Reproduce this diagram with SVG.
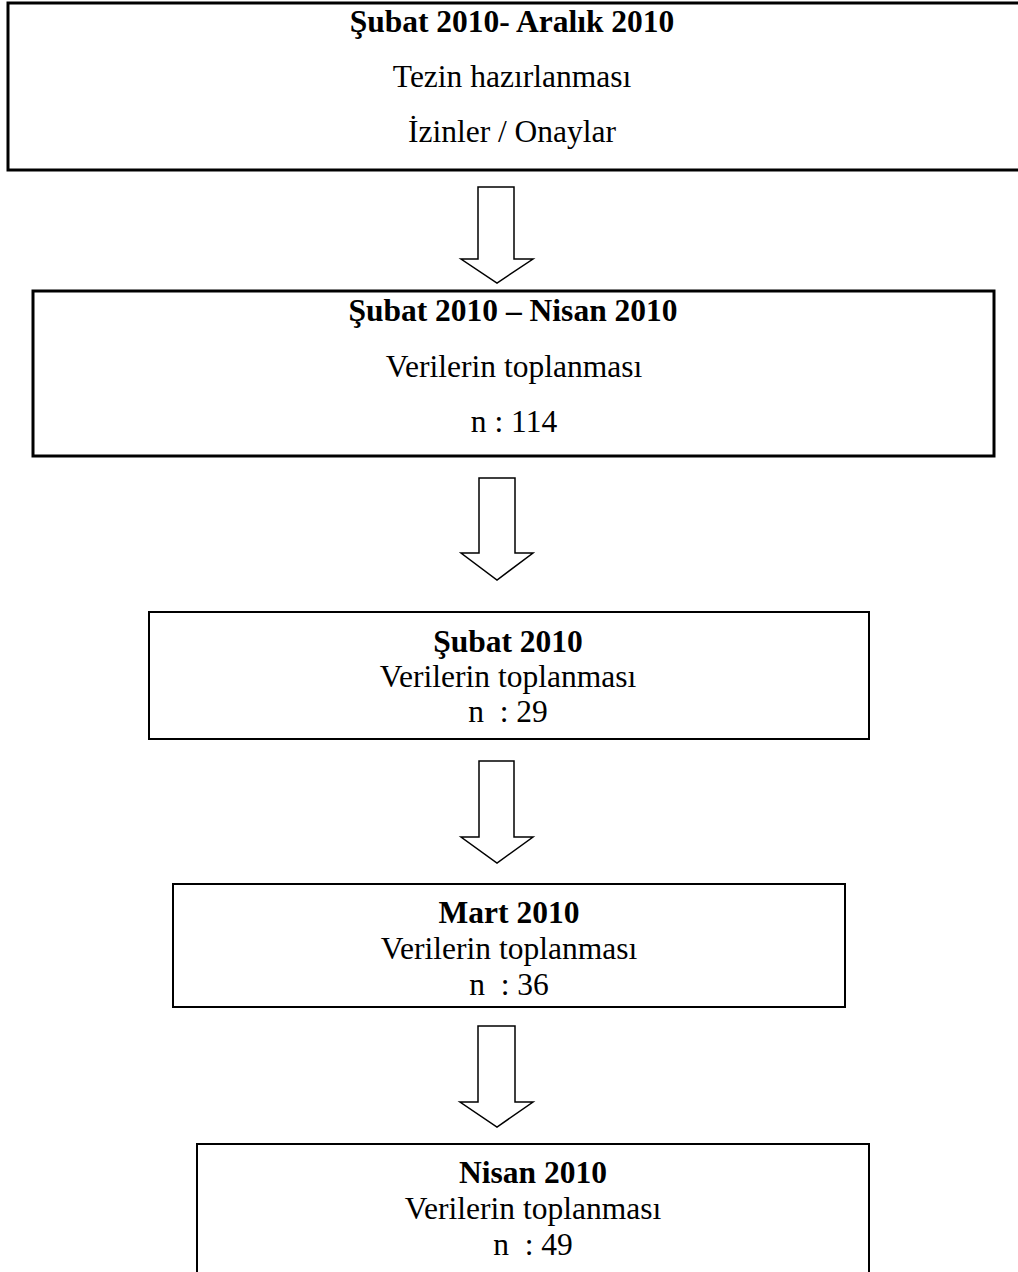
<svg xmlns="http://www.w3.org/2000/svg" width="1018" height="1272" viewBox="0 0 1018 1272">
<style>
.box{fill:#fff;stroke:#000}
.b1{stroke-width:3}
.b2{stroke-width:2}
.t{font-family:"Liberation Serif","Times New Roman",serif;font-size:31.5px;fill:#000;text-anchor:middle;white-space:pre}
.bold{font-weight:bold}
.arrow{fill:#fff;stroke:#000;stroke-width:1.5;stroke-linejoin:miter}
</style>
<rect width="1018" height="1272" fill="#fff"/>
<g id="connectors">
<path class="arrow" d="M478,187 H514 V259 H533 L497,283 L461,259 H478 Z"/>
<path class="arrow" d="M479,478 H515 V553 H533 L497,580 L461,553 H479 Z"/>
<path class="arrow" d="M479,761 H514 V837 H533 L497,863 L461,837 H479 Z"/>
<path class="arrow" d="M478,1026 H515 V1102 H533 L497,1127 L460,1102 H478 Z"/>
</g>
<g id="node1">
<rect class="box b1" x="8" y="3" width="1030" height="167"/>
<text class="t bold" x="512" y="32">Şubat 2010- Aralık 2010</text>
<text class="t" x="512" y="87">Tezin hazırlanması</text>
<text class="t" x="512" y="142">İzinler / Onaylar</text>
</g>
<g id="node2">
<rect class="box b1" x="33" y="291" width="961" height="165"/>
<text class="t bold" x="513" y="321">Şubat 2010 – Nisan 2010</text>
<text class="t" x="514" y="377">Verilerin toplanması</text>
<text class="t" x="514" y="432">n : 114</text>
</g>
<g id="node3">
<rect class="box b2" x="149" y="612" width="720" height="127"/>
<text class="t bold" x="508" y="652">Şubat 2010</text>
<text class="t" x="508" y="687">Verilerin toplanması</text>
<text class="t" x="508" y="722">n  : 29</text>
</g>
<g id="node4">
<rect class="box b2" x="173" y="884" width="672" height="123"/>
<text class="t bold" x="509" y="923">Mart 2010</text>
<text class="t" x="509" y="959">Verilerin toplanması</text>
<text class="t" x="509" y="995">n  : 36</text>
</g>
<g id="node5">
<rect class="box b2" x="197" y="1144" width="672" height="140"/>
<text class="t bold" x="533" y="1183">Nisan 2010</text>
<text class="t" x="533" y="1219">Verilerin toplanması</text>
<text class="t" x="533" y="1255">n  : 49</text>
</g>
</svg>
